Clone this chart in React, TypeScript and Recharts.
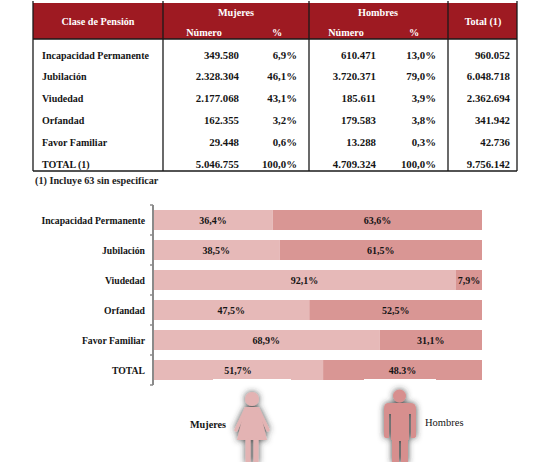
import { BarChart, Bar, XAxis, YAxis, LabelList } from 'recharts'

// chart data
const categories = ['Incapacidad Permanente', 'Jubilación', 'Viudedad', 'Orfandad', 'Favor Familiar', 'TOTAL']
const mujeresPct = [36.4, 38.5, 92.1, 47.5, 68.9, 51.7]
const hombresPct = [63.6, 61.5, 7.9, 52.5, 31.1, 48.3]
const mujeresLabels = ['36,4%', '38,5%', '92,1%', '47,5%', '68,9%', '51,7%']
const hombresLabels = ['63,6%', '61,5%', '7,9%', '52,5%', '31,1%', '48.3%']

// table data
const tableRows = ['Incapacidad Permanente', 'Jubilación', 'Viudedad', 'Orfandad', 'Favor Familiar', 'TOTAL (1)']
const mujeresNumero = ['349.580', '2.328.304', '2.177.068', '162.355', '29.448', '5.046.755']
const mujeresPctTxt = ['6,9%', '46,1%', '43,1%', '3,2%', '0,6%', '100,0%']
const hombresNumero = ['610.471', '3.720.371', '185.611', '179.583', '13.288', '4.709.324']
const hombresPctTxt = ['13,0%', '79,0%', '3,9%', '3,8%', '0,3%', '100,0%']
const totalNumero = ['960.052', '6.048.718', '2.362.694', '341.942', '42.736', '9.756.142']

const data = categories.map((name, i) => ({
  name,
  mujeres: mujeresPct[i],
  hombres: hombresPct[i],
  mLabel: mujeresLabels[i],
  hLabel: hombresLabels[i],
}))

const FONT = '"Liberation Serif", serif'
const INK = '#141414'
const MUJ = '#E6B9B8'
const HOM = '#D99694'
const HEAD = '#9E1A22'

function CatTick(props: any) {
  const { x, y, payload, index } = props
  const axisX = x + 8
  return (
    <g>
      <line x1={axisX - 3} x2={axisX} y1={y - 15} y2={y - 15} stroke="#8a8a8a" strokeWidth={1.5} />
      {index === categories.length - 1 && (
        <line x1={axisX - 3} x2={axisX} y1={y + 15} y2={y + 15} stroke="#8a8a8a" strokeWidth={1.5} />
      )}
      <text x={x} y={y} dy={3.5} textAnchor="end" fontFamily={FONT} fontWeight={700} fontSize={9.7} fill={INK}>
        {payload.value}
      </text>
    </g>
  )
}

function PensionTable() {
  const rowY = (i: number) => 58.5 + i * 21.8
  const cols = [33, 163, 309, 448, 517]
  return (
    <svg width={557} height={200} style={{ position: 'absolute', left: 0, top: 0 }}>
      <rect x={33} y={3} width={484} height={36} fill={HEAD} />
      {cols.map(c => (
        <line key={c} x1={c} x2={c} y1={1} y2={171} stroke="#1a1a1a" strokeWidth={1.3} />
      ))}
      <line x1={33} x2={517} y1={39} y2={39} stroke="#1a1a1a" strokeWidth={1.3} />
      <line x1={33} x2={517} y1={171} y2={171} stroke="#1a1a1a" strokeWidth={1.3} />
      <g fontFamily={FONT} fontWeight={700} fontSize={10.2} fill="#fff">
        <text x={98} y={25} textAnchor="middle">Clase de Pensión</text>
        <text x={236} y={16} textAnchor="middle">Mujeres</text>
        <text x={204} y={36} textAnchor="middle">Número</text>
        <text x={277} y={36} textAnchor="middle">%</text>
        <text x={378} y={16} textAnchor="middle">Hombres</text>
        <text x={346} y={36} textAnchor="middle">Número</text>
        <text x={414} y={36} textAnchor="middle">%</text>
        <text x={483} y={25} textAnchor="middle">Total (1)</text>
      </g>
      <g fontFamily={FONT} fontWeight={700} fill={INK}>
        {tableRows.map((r, i) => (
          <g key={r}>
            <text x={42} y={rowY(i)} fontSize={10}>{r}</text>
            <g fontSize={10.8}>
              <text x={239} y={rowY(i)} textAnchor="end">{mujeresNumero[i]}</text>
              <text x={297} y={rowY(i)} textAnchor="end">{mujeresPctTxt[i]}</text>
              <text x={376} y={rowY(i)} textAnchor="end">{hombresNumero[i]}</text>
              <text x={436} y={rowY(i)} textAnchor="end">{hombresPctTxt[i]}</text>
              <text x={510} y={rowY(i)} textAnchor="end">{totalNumero[i]}</text>
            </g>
          </g>
        ))}
      </g>
      <text x={35} y={184} fontFamily={FONT} fontWeight={700} fontSize={10.2} fill="#222">(1) Incluye 63 sin especificar</text>
    </svg>
  )
}

function Figures() {
  return (
    <svg width={557} height={462} style={{ position: 'absolute', left: 0, top: 0, pointerEvents: 'none' }}>
      <defs>
        <filter id="glow" x="-50%" y="-50%" width="200%" height="200%">
          <feDropShadow dx={0} dy={0} stdDeviation={3} floodColor="#333" floodOpacity={0.9} />
        </filter>
      </defs>
      {/* white backgrounds of the pasted figures */}
      <rect x={213} y={379} width={78} height={10} fill="#fff" />
      <rect x={364} y={379} width={72} height={10} fill="#fff" />
      {/* woman */}
      <g fill="#E3B3B3" stroke="#E3B3B3" filter="url(#glow)">
        <circle cx={252} cy={399} r={7} stroke="none" />
        <path d="M245 407 L259 407 L267 440 L237 440 Z" stroke="none" />
        <line x1={246} y1={409} x2={236} y2={430} strokeWidth={3.5} strokeLinecap="round" />
        <line x1={258} y1={409} x2={268} y2={430} strokeWidth={3.5} strokeLinecap="round" />
        <rect x={245.5} y={438} width={5} height={26} rx={2} stroke="none" />
        <rect x={253.5} y={438} width={5} height={26} rx={2} stroke="none" />
      </g>
      {/* man */}
      <g fill="#D78F8E" filter="url(#glow)">
        <circle cx={399.5} cy={396} r={6.5} />
        <path d="M388 403 L411 403 Q416 403 416 409 L416 436 Q416 438 413 438 L411 438 L411 414 L409 414 L409 440 L408 440 L408 463 L401 463 L401 441 L399 441 L399 463 L392 463 L392 440 L391 440 L391 414 L389 414 L389 438 L386 438 Q384 438 384 436 L384 409 Q384 403 388 403 Z" />
      </g>
      <text x={190} y={428} fontFamily={FONT} fontWeight={700} fontSize={10.2} fill={INK}>Mujeres</text>
      <text x={425} y={426} fontFamily={FONT} fontSize={10.5} fill={INK}>Hombres</text>
    </svg>
  )
}

export default function App() {
  return (
    <div style={{ position: 'absolute', left: 0, top: 0, width: 557, height: 462, background: '#fff' }}>
      <PensionTable />
      <div style={{ position: 'absolute', left: 0, top: 0 }}>
        <BarChart width={557} height={462} data={data} layout="vertical" barSize={20}
          margin={{ top: 205, right: 75, bottom: 77, left: 0 }}>
          <XAxis type="number" domain={[0, 100]} hide />
          <YAxis type="category" dataKey="name" width={153} interval={0}
            axisLine={{ stroke: '#8a8a8a', strokeWidth: 2 }} tickLine={false} tick={<CatTick />} />
          <Bar dataKey="mujeres" stackId="a" fill={MUJ} isAnimationActive={false}>
            <LabelList dataKey="mLabel" position="center" fill={INK} fontFamily={FONT} fontWeight={700} fontSize={10} />
          </Bar>
          <Bar dataKey="hombres" stackId="a" fill={HOM} isAnimationActive={false}>
            <LabelList dataKey="hLabel" position="center" fill={INK} fontFamily={FONT} fontWeight={700} fontSize={10} />
          </Bar>
        </BarChart>
      </div>
      <Figures />
    </div>
  )
}
